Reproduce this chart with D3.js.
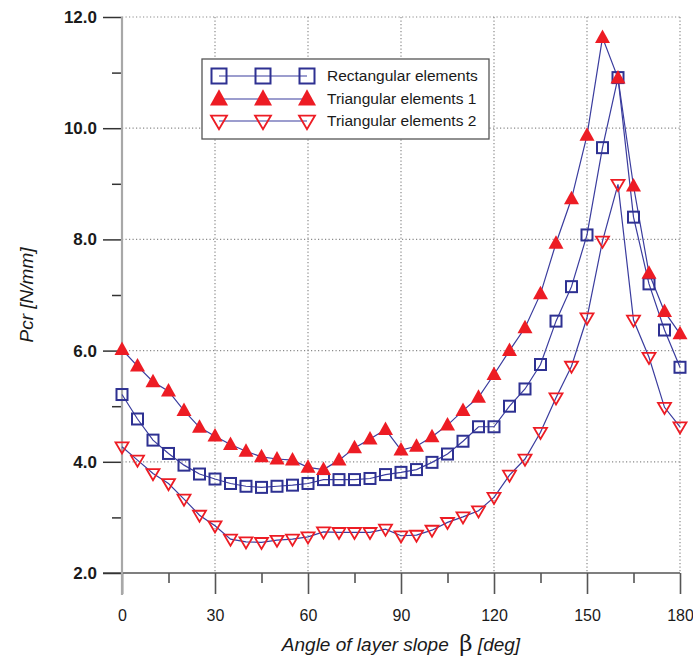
<!DOCTYPE html>
<html>
<head>
<meta charset="utf-8">
<script src="https://cdn.jsdelivr.net/npm/d3@7"></script>
<style>
  body { margin: 0; background: #fff; }
  svg { font-family: "Liberation Sans", Arial, sans-serif; }
</style>
</head>
<body>
<div class="chart"></div>
<script>
'use strict'
// DATA
const angles = d3.range(0, 181, 5)

const rectangular = [5.21, 4.77, 4.39, 4.15, 3.94, 3.78, 3.69, 3.61, 3.56, 3.54, 3.56, 3.58,
  3.61, 3.68, 3.68, 3.68, 3.70, 3.77, 3.81, 3.86, 3.99, 4.14, 4.37, 4.63, 4.63, 5.00, 5.31,
  5.75, 6.53, 7.15, 8.08, 9.65, 10.91, 8.40, 7.20, 6.37, 5.70]

const triangular1 = [6.02, 5.72, 5.44, 5.27, 4.92, 4.62, 4.46, 4.31, 4.19, 4.09, 4.05, 4.03,
  3.90, 3.86, 4.03, 4.25, 4.41, 4.58, 4.21, 4.28, 4.45, 4.66, 4.92, 5.16, 5.57, 6.00, 6.41,
  7.02, 7.93, 8.73, 9.87, 11.63, 10.90, 8.96, 7.39, 6.70, 6.30]

const triangular2 = [4.27, 4.03, 3.79, 3.61, 3.33, 3.04, 2.85, 2.61, 2.56, 2.55, 2.59, 2.61,
  2.65, 2.74, 2.73, 2.73, 2.73, 2.79, 2.67, 2.68, 2.77, 2.91, 3.01, 3.12, 3.36, 3.76, 4.05,
  4.53, 5.15, 5.72, 6.59, 7.97, 8.99, 6.55, 5.88, 4.98, 4.63]

const xTicks = [0, 30, 60, 90, 120, 150, 180]
const yTicks = [2, 4, 6, 8, 10, 12]

const seriesNames = ['Rectangular elements', 'Triangular elements 1', 'Triangular elements 2']

// COLOURS
const lineColor = '#3a3c9e'
const navy = '#2e3192'
const red = '#ed1c24'

function main() {
  const width = 693
  const height = 657

  const xScale = d3.scaleLinear([0, 180], [122, 680])
  const yScale = d3.scaleLinear([2, 12], [573, 17])

  const svg = d3.select('.chart')
    .append('svg')
    .attr('width', width)
    .attr('height', height)

  // GRID
  const grid = svg.append('g').attr('class', 'grid')
  grid.selectAll('.vgrid')
    .data(xTicks.slice(1))
    .join('line')
    .attr('x1', d => xScale(d)).attr('x2', d => xScale(d))
    .attr('y1', yScale(12)).attr('y2', yScale(2))
    .attr('stroke', '#8a8a8a')
    .attr('stroke-width', 1.2)
    .attr('stroke-dasharray', '1.2,2.3')
  grid.selectAll('.hgrid')
    .data(yTicks.slice(1))
    .join('line')
    .attr('x1', xScale(0)).attr('x2', xScale(180))
    .attr('y1', d => yScale(d)).attr('y2', d => yScale(d))
    .attr('stroke', '#8a8a8a')
    .attr('stroke-width', 1.2)
    .attr('stroke-dasharray', '1.2,2.3')

  // X AXIS
  const xAxis = d3.axisBottom(xScale)
    .tickValues(d3.range(0, 181, 15))
    .tickSize(21)
    .tickSizeOuter(0)
    .tickFormat(d => (d % 30 === 0 ? d : ''))
  const xAxisDraw = svg.append('g')
    .attr('class', 'x axis')
    .attr('transform', `translate(0, ${yScale(2)})`)
    .call(xAxis)
  xAxisDraw.select('.domain').remove()
  xAxisDraw.selectAll('.tick line')
    .attr('stroke', '#555')
    .attr('stroke-width', 1.6)
    .attr('y2', d => (d % 30 === 0 ? 21 : 10))
  xAxisDraw.selectAll('.tick text')
    .attr('y', 37)
    .attr('fill', '#1a1a1a')
    .style('font-family', '"Liberation Sans", Arial, sans-serif')
    .style('font-size', '16px')
  xAxisDraw.append('line')
    .attr('x1', 103).attr('x2', xScale(180))
    .attr('stroke', '#555').attr('stroke-width', 1.6)

  // Y AXIS
  const yAxis = d3.axisLeft(yScale)
    .tickValues(d3.range(2, 12.1, 1))
    .tickSize(19)
    .tickSizeOuter(0)
    .tickFormat(d => (d % 2 === 0 ? d3.format('.1f')(d) : ''))
  const yAxisDraw = svg.append('g')
    .attr('class', 'y axis')
    .attr('transform', `translate(${xScale(0)}, 0)`)
    .call(yAxis)
  yAxisDraw.select('.domain').remove()
  yAxisDraw.selectAll('.tick line')
    .attr('stroke', '#333')
    .attr('stroke-width', 1.5)
    .attr('x2', d => (d % 2 === 0 ? -19 : -10))
  yAxisDraw.selectAll('.tick text')
    .attr('x', -25)
    .attr('fill', '#1a1a1a')
    .style('font-family', '"Liberation Sans", Arial, sans-serif')
    .style('font-size', '17px')
    .style('font-weight', 'bold')
  yAxisDraw.append('line')
    .attr('y1', yScale(12)).attr('y2', 595)
    .attr('stroke', '#a8a8a8').attr('stroke-width', 2.2)

  // AXIS TITLES
  svg.append('text')
    .attr('transform', `translate(33, ${yScale(7)}) rotate(-90)`)
    .attr('text-anchor', 'middle')
    .style('font-size', '19px')
    .style('font-style', 'italic')
    .attr('fill', '#1a1a1a')
    .text('Pcr [N/mm]')

  const xTitle = svg.append('text')
    .attr('x', xScale(90))
    .attr('y', 651)
    .attr('text-anchor', 'middle')
    .style('font-size', '19px')
    .attr('fill', '#1a1a1a')
  xTitle.append('tspan').style('font-style', 'italic').text('Angle of layer slope\u00a0\u00a0')
  xTitle.append('tspan').style('font-size', '23px').style('font-family', '"DejaVu Serif", serif').text('β')
  xTitle.append('tspan').style('font-style', 'italic').text(' [deg]')

  // SERIES
  const series = [
    { name: seriesNames[0], values: rectangular, marker: 'square' },
    { name: seriesNames[1], values: triangular1, marker: 'triUp' },
    { name: seriesNames[2], values: triangular2, marker: 'triDown' },
  ]

  const line = d3.line()
    .x((d, i) => xScale(angles[i]))
    .y(d => yScale(d))

  const plot = svg.append('g').attr('class', 'plot')

  plot.selectAll('.series-line')
    .data(series)
    .join('path')
    .attr('class', 'series-line')
    .attr('d', d => line(d.values))
    .attr('fill', 'none')
    .attr('stroke', lineColor)
    .attr('stroke-width', 1.2)

  function drawMarker(g, type, cx, cy, s) {
    if (type === 'square') {
      g.append('rect')
        .attr('x', cx - s / 2).attr('y', cy - s / 2)
        .attr('width', s).attr('height', s)
        .attr('fill', 'none')
        .attr('stroke', navy)
        .attr('stroke-width', 2)
    } else if (type === 'triUp') {
      const h = s * 0.9
      g.append('path')
        .attr('d', `M${cx},${cy - h * 0.6}L${cx + s / 2},${cy + h * 0.4}L${cx - s / 2},${cy + h * 0.4}Z`)
        .attr('fill', red)
    } else {
      const h = s * 0.85
      g.append('path')
        .attr('d', `M${cx - s / 2},${cy - h * 0.4}L${cx + s / 2},${cy - h * 0.4}L${cx},${cy + h * 0.6}Z`)
        .attr('fill', 'none')
        .attr('stroke', red)
        .attr('stroke-width', 1.8)
    }
  }

  const sizes = { square: 11, triUp: 15, triDown: 13 }
  series.forEach(s => {
    const g = plot.append('g')
    s.values.forEach((v, i) => drawMarker(g, s.marker, xScale(angles[i]), yScale(v), sizes[s.marker]))
  })

  // LEGEND
  const legend = svg.append('g').attr('class', 'legend')
  legend.append('rect')
    .attr('x', 202).attr('y', 59)
    .attr('width', 287).attr('height', 80)
    .attr('fill', '#fff')
    .attr('stroke', '#555')
    .attr('stroke-width', 1.3)

  const legendSizes = { square: 15, triUp: 18, triDown: 16 }
  const rowY = [76, 99, 121]
  const markerX = [219, 263, 307]
  series.forEach((s, i) => {
    const g = legend.append('g')
    g.append('line')
      .attr('x1', markerX[0]).attr('x2', markerX[2])
      .attr('y1', rowY[i]).attr('y2', rowY[i])
      .attr('stroke', lineColor).attr('stroke-width', 1.2)
    markerX.forEach(mx => drawMarker(g, s.marker, mx, rowY[i], legendSizes[s.marker]))
    g.append('text')
      .attr('x', 327).attr('y', rowY[i])
      .attr('dy', '0.35em')
      .style('font-size', '15.5px')
      .attr('fill', '#1a1a1a')
      .text(s.name)
  })
}

// START
main()
</script>
</body>
</html>
